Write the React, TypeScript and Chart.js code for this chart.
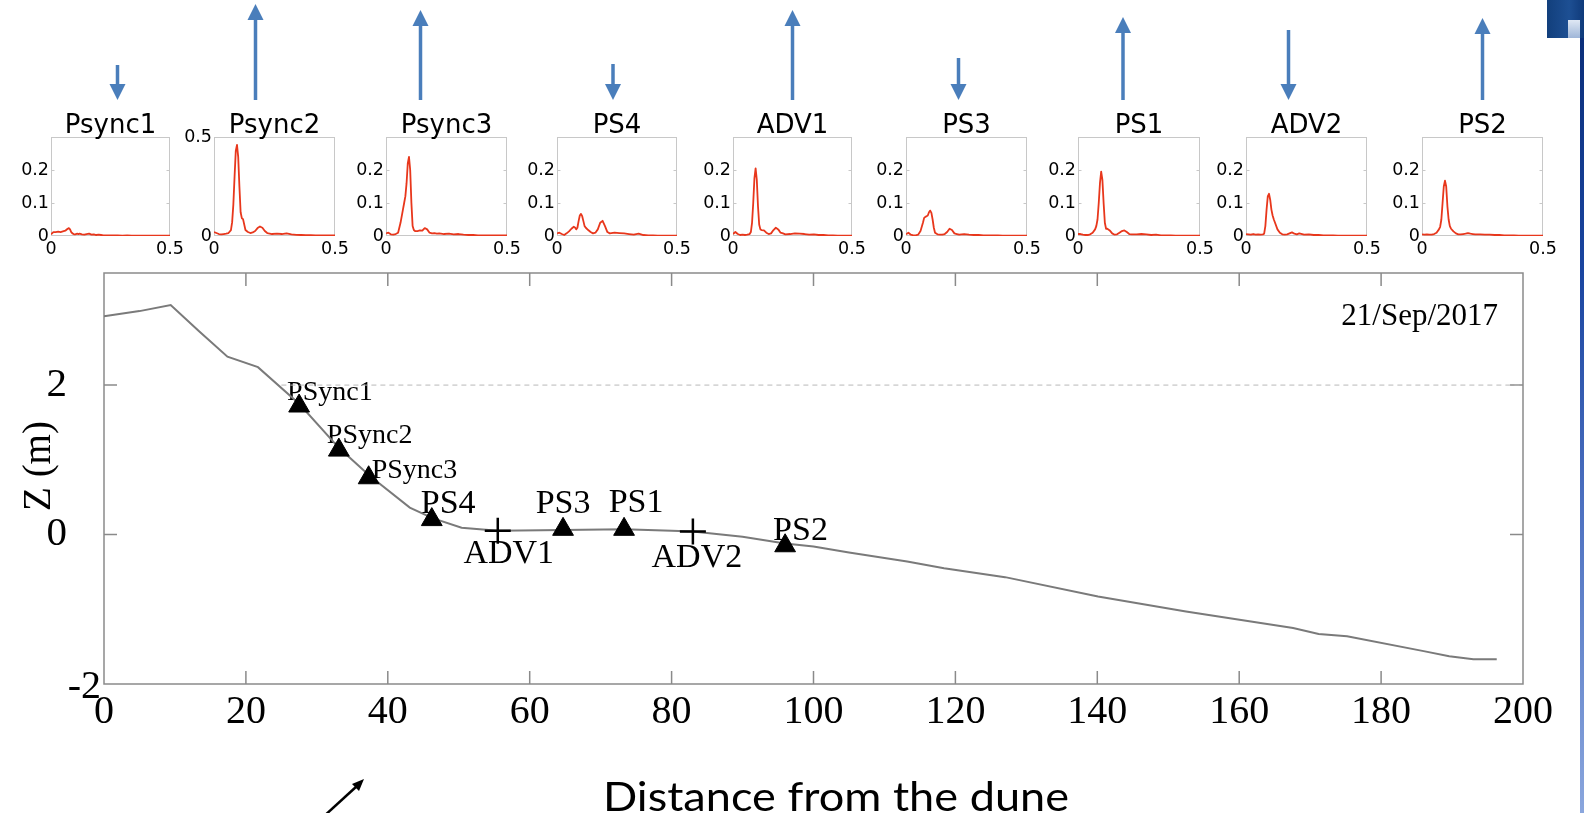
import React, { useEffect, useRef } from "react";
import { Chart, registerables } from "chart.js";

Chart.register(...registerables);

// ====================== DATA ======================
// Spectra (top panels): frequency grid and spectral density per instrument
const frequencies = [
  0, 0.01, 0.02, 0.03, 0.04, 0.05, 0.06, 0.07,
  0.075, 0.08, 0.085, 0.09, 0.095, 0.1, 0.105, 0.11, 0.115, 0.12,
  0.13, 0.14, 0.15, 0.16, 0.17, 0.18, 0.19, 0.2, 0.21, 0.22,
  0.24, 0.26, 0.28, 0.3, 0.32, 0.34, 0.36, 0.38, 0.4, 0.42, 0.44, 0.46, 0.48, 0.5,
];
const specPsync1 = [
  0.005, 0.012, 0.012, 0.013, 0.012, 0.014, 0.016, 0.022,
  0.024, 0.02, 0.012, 0.008, 0.006, 0.005, 0.006, 0.007, 0.006, 0.007,
  0.005, 0.004, 0.006, 0.007, 0.004, 0.005, 0.003, 0.004, 0.003, 0.002,
  0.002, 0.002, 0.002, 0.001, 0.002, 0.001, 0.001, 0.001, 0.001, 0.001, 0.001, 0.001, 0.001, 0.001,
];
const specPsync2 = [
  0.02, 0.015, 0.01, 0.008, 0.01, 0.012, 0.015, 0.03,
  0.07, 0.16, 0.3, 0.43, 0.46, 0.4, 0.25, 0.12, 0.09, 0.085,
  0.03, 0.02, 0.015, 0.018, 0.025, 0.04, 0.048, 0.042, 0.025, 0.015,
  0.01, 0.012, 0.01, 0.013, 0.008, 0.006, 0.005, 0.004, 0.004, 0.003, 0.003, 0.003, 0.003, 0.003,
];
const specPsync3 = [
  0.008, 0.01, 0.005, 0.004, 0.006, 0.01, 0.04, 0.08,
  0.1, 0.12, 0.16, 0.22, 0.24, 0.2, 0.1, 0.03, 0.018, 0.015,
  0.015, 0.017, 0.016, 0.024, 0.02, 0.01, 0.008, 0.009, 0.007, 0.008,
  0.006, 0.007, 0.005, 0.006, 0.004, 0.003, 0.003, 0.002, 0.002, 0.002, 0.002, 0.002, 0.002, 0.002,
];
const specPS4 = [
  0.008, 0.01, 0.006, 0.003, 0.008, 0.014, 0.022, 0.028,
  0.026, 0.02, 0.025, 0.045, 0.062, 0.067, 0.06, 0.045, 0.03, 0.025,
  0.018, 0.012, 0.008, 0.01, 0.02, 0.04, 0.046, 0.03, 0.012, 0.008,
  0.01, 0.009, 0.008, 0.006, 0.004, 0.007, 0.003, 0.002, 0.002, 0.001, 0.001, 0.001, 0.001, 0.001,
];
const specADV1 = [
  0.006, 0.012, 0.006, 0.003, 0.004, 0.003, 0.004, 0.006,
  0.012, 0.04, 0.1, 0.175, 0.205, 0.17, 0.09, 0.035, 0.02, 0.018,
  0.017, 0.01, 0.006, 0.008, 0.018, 0.025, 0.02, 0.01, 0.008, 0.005,
  0.006, 0.008, 0.007, 0.006, 0.004, 0.005, 0.003, 0.003, 0.002, 0.002, 0.001, 0.001, 0.001, 0.001,
];
const specPS3 = [
  0.005, 0.01, 0.004, 0.002, 0.002, 0.004, 0.015, 0.04,
  0.055, 0.058, 0.06, 0.062, 0.072, 0.077, 0.07, 0.05, 0.025, 0.01,
  0.005, 0.004, 0.004, 0.006, 0.012, 0.022, 0.018, 0.008, 0.006, 0.004,
  0.006, 0.004, 0.003, 0.003, 0.002, 0.002, 0.002, 0.002, 0.001, 0.001, 0.001, 0.001, 0.001, 0.001,
];
const specPS1 = [
  0.006, 0.006, 0.004, 0.003, 0.003, 0.005, 0.01, 0.02,
  0.03, 0.05, 0.1, 0.16, 0.195, 0.17, 0.1, 0.04, 0.022, 0.022,
  0.017, 0.008, 0.004, 0.005, 0.01, 0.015, 0.017, 0.012, 0.006, 0.005,
  0.005, 0.006, 0.005, 0.003, 0.004, 0.002, 0.002, 0.002, 0.001, 0.001, 0.001, 0.001, 0.001, 0.001,
];
const specADV2 = [
  0.006, 0.005, 0.004, 0.006, 0.004, 0.005, 0.004, 0.005,
  0.007, 0.03, 0.08, 0.12, 0.128, 0.11, 0.08, 0.062, 0.05, 0.04,
  0.02, 0.01, 0.005, 0.004, 0.005, 0.008, 0.011, 0.007, 0.005, 0.008,
  0.004, 0.005, 0.003, 0.003, 0.002, 0.002, 0.002, 0.001, 0.001, 0.001, 0.001, 0.001, 0.001, 0.001,
];
const specPS2 = [
  0.005, 0.004, 0.005, 0.004, 0.004, 0.006, 0.01, 0.02,
  0.028, 0.05, 0.1, 0.15, 0.168, 0.15, 0.09, 0.05, 0.03, 0.022,
  0.014, 0.008, 0.005, 0.005, 0.006, 0.007, 0.009, 0.007, 0.006, 0.005,
  0.005, 0.004, 0.004, 0.003, 0.003, 0.002, 0.002, 0.002, 0.001, 0.001, 0.001, 0.001, 0.001, 0.001,
];
const spectra = [specPsync1, specPsync2, specPsync3, specPS4, specADV1, specPS3, specPS1, specADV2, specPS2];
const panelTitles = ["Psync1", "Psync2", "Psync3", "PS4", "ADV1", "PS3", "PS1", "ADV2", "PS2"];
const panelYMax = [0.3, 0.5, 0.3, 0.3, 0.3, 0.3, 0.3, 0.3, 0.3];
const panelYTicks = [
  [0, 0.1, 0.2], [0, 0.5], [0, 0.1, 0.2], [0, 0.1, 0.2], [0, 0.1, 0.2],
  [0, 0.1, 0.2], [0, 0.1, 0.2], [0, 0.1, 0.2], [0, 0.1, 0.2],
];
const freqTicks = [0, 0.5];
// signed arrow magnitudes above each panel (positive = up, negative = down)
const arrowValues = [-0.35, 0.96, 0.9, -0.36, 0.9, -0.42, 0.83, -0.7, 0.82];

// Beach profile (main panel)
const profileDistance = [
  0, 5, 9.4, 13.4, 17.4, 21.7, 27.5, 33.1, 37.4, 43.1, 46.3, 50.4, 55.5, 64.7, 73.3, 80, 83, 90,
  96, 100, 105, 113.2, 118.4, 127, 140.1, 152.5, 167.6, 171.2, 175.2, 186, 189.6, 193, 196.3,
];
const profileZ = [
  2.92, 2.99, 3.07, 2.72, 2.38, 2.24, 1.75, 1.16, 0.79, 0.36, 0.22, 0.09, 0.05, 0.06, 0.07, 0.05, 0.04, -0.03,
  -0.12, -0.16, -0.24, -0.36, -0.45, -0.57, -0.83, -1.03, -1.25, -1.33, -1.36, -1.56, -1.63, -1.67, -1.67,
];
const waterLevelDistance = [25, 200];
const waterLevelZ = [2, 2];
const instrumentNames = ["PSync1", "PSync2", "PSync3", "PS4", "ADV1", "PS3", "PS1", "ADV2", "PS2"];
const instrumentDistance = [27.5, 33.1, 37.3, 46.2, 55.5, 64.7, 73.3, 83.0, 96.0];
const instrumentZ = [1.72, 1.13, 0.76, 0.2, 0.05, 0.07, 0.07, 0.04, -0.15];
const instrumentKind = ["PS", "PS", "PS", "PS", "ADV", "PS", "PS", "ADV", "PS"];
const distanceTicks = [0, 20, 40, 60, 80, 100, 120, 140, 160, 180, 200];
const zTicks = [-2, 0, 2];
const distanceRange = [0, 200];
const zRange = [-2, 3.5];
const surveyDate = "21/Sep/2017";
const xAxisTitle = "Distance from the dune";
const yAxisTitle = "Z (m)";

// ====================== LAYOUT / STYLE ======================
const PANEL_LAYOUT = [
  { left: 51, right: 170, arrowDx: 7 },
  { left: 214, right: 335, arrowDx: -19 },
  { left: 386, right: 507, arrowDx: -26 },
  { left: 557, right: 677, arrowDx: -4 },
  { left: 733, right: 852, arrowDx: 0 },
  { left: 906, right: 1027, arrowDx: -8 },
  { left: 1078, right: 1200, arrowDx: -16 },
  { left: 1246, right: 1367, arrowDx: -18 },
  { left: 1422, right: 1543, arrowDx: 0 },
];
const MINI = { axisW: 45, padRight: 24, top: 137, bottom: 236, height: 262, xAxisH: 22 };
const ARROW = { base: 100, scale: 100, color: "#4a7ebb", width: 3.5, head: 16, headHalf: 8 };
const SANS = "'DejaVu Sans', 'Liberation Sans', sans-serif";
const SERIF = "'Liberation Serif', 'Times New Roman', serif";

const MAIN = { top: 255, width: 1580, height: 558, plotTop: 273, plotBottom: 684, plotLeft: 104, plotRight: 1523 };
const Y_TITLE = { x: 40, y: 211, size: 39 }; // relative to main canvas

const LABEL_STYLE = [
  { dx: -12, dy: -6, align: "left", size: 28 },
  { dx: -12, dy: -7, align: "left", size: 28 },
  { dx: 3, dy: 0, align: "left", size: 28 },
  { dx: -11, dy: -7, align: "left", size: 34 },
  { dx: 11, dy: 32, align: "center", size: 34 },
  { dx: 0, dy: -16, align: "center", size: 34 },
  { dx: 12, dy: -17, align: "center", size: 34 },
  { dx: 4, dy: 35, align: "center", size: 34 },
  { dx: -12, dy: -6, align: "left", size: 34 },
];

// ====================== MINI PANELS ======================
const miniDecor = {
  id: "miniDecor",
  beforeDatasetsDraw(chart: any, _args: any, opts: any) {
    const { ctx, chartArea: a, scales } = chart;
    ctx.save();
    ctx.strokeStyle = "#c8c8c8";
    ctx.lineWidth = 1;
    const l = Math.round(a.left) + 0.5;
    const r = Math.round(a.right) - 0.5;
    const t = Math.round(a.top) + 0.5;
    const b = Math.round(a.bottom) - 0.5;
    ctx.strokeRect(l, t, r - l, b - t);
    ctx.beginPath();
    (opts.yTicks || []).forEach((v: number) => {
      if (v <= 0) return;
      const y = Math.round(scales.y.getPixelForValue(v)) + 0.5;
      ctx.moveTo(l, y);
      ctx.lineTo(l + 3, y);
      ctx.moveTo(r, y);
      ctx.lineTo(r - 3, y);
    });
    ctx.stroke();
    ctx.restore();
  },
  afterDraw(chart: any, _args: any, opts: any) {
    const { ctx, chartArea: a } = chart;
    const cx = (a.left + a.right) / 2;
    ctx.save();
    ctx.fillStyle = "#000";
    ctx.font = `26px ${SANS}`;
    ctx.textAlign = "center";
    ctx.textBaseline = "alphabetic";
    ctx.fillText(opts.title, cx, a.top - 4);
    // arrow
    const ax = cx + opts.arrowDx;
    const len = Math.abs(opts.arrow) * ARROW.scale;
    const up = opts.arrow > 0;
    const tailY = up ? ARROW.base : ARROW.base - len;
    const tipY = up ? ARROW.base - len : ARROW.base;
    const headBase = up ? tipY + ARROW.head : tipY - ARROW.head;
    ctx.strokeStyle = ARROW.color;
    ctx.fillStyle = ARROW.color;
    ctx.lineWidth = ARROW.width;
    ctx.beginPath();
    ctx.moveTo(ax, tailY);
    ctx.lineTo(ax, headBase);
    ctx.stroke();
    ctx.beginPath();
    ctx.moveTo(ax, tipY);
    ctx.lineTo(ax - ARROW.headHalf, headBase);
    ctx.lineTo(ax + ARROW.headHalf, headBase);
    ctx.closePath();
    ctx.fill();
    ctx.restore();
  },
};

function MiniPanel({ idx }: { idx: number }) {
  const ref = useRef<HTMLCanvasElement | null>(null);
  const lay = PANEL_LAYOUT[idx];
  const width = MINI.axisW + (lay.right - lay.left) + MINI.padRight;
  useEffect(() => {
    const chart = new Chart(ref.current as HTMLCanvasElement, {
      type: "line",
      data: {
        datasets: [
          {
            data: frequencies.map((f, i) => ({ x: f, y: spectra[idx][i] })),
            borderColor: "#e8371c",
            borderWidth: 1.8,
            pointRadius: 0,
            tension: 0,
            borderJoinStyle: "round",
          } as any,
        ],
      },
      options: {
        animation: false,
        responsive: false,
        events: [],
        layout: {
          padding: { left: 0, right: MINI.padRight, top: MINI.top, bottom: MINI.height - MINI.bottom - MINI.xAxisH },
        },
        plugins: {
          legend: { display: false },
          tooltip: { enabled: false },
          miniDecor: { title: panelTitles[idx], arrow: arrowValues[idx], arrowDx: lay.arrowDx, yTicks: panelYTicks[idx] },
        } as any,
        scales: {
          x: {
            type: "linear",
            min: 0,
            max: 0.5,
            afterBuildTicks: (s: any) => {
              s.ticks = freqTicks.map((v) => ({ value: v }));
            },
            afterFit: (s: any) => {
              s.height = MINI.xAxisH;
            },
            ticks: {
              callback: (v: any) => String(v),
              font: { family: SANS, size: 17.5 },
              color: "#000",
              padding: 3,
              maxRotation: 0,
              autoSkip: false,
            },
            grid: { display: false, drawTicks: false },
            border: { display: false },
          },
          y: {
            type: "linear",
            min: 0,
            max: panelYMax[idx],
            afterBuildTicks: (s: any) => {
              s.ticks = panelYTicks[idx].map((v) => ({ value: v }));
            },
            afterFit: (s: any) => {
              s.width = MINI.axisW;
            },
            ticks: {
              callback: (v: any) => String(v),
              font: { family: SANS, size: 17.5 },
              color: "#000",
              padding: 2,
              autoSkip: false,
            },
            grid: { display: false, drawTicks: false },
            border: { display: false },
          },
        },
      } as any,
      plugins: [miniDecor as any],
    });
    return () => chart.destroy();
  }, [idx]);
  return (
    <canvas
      ref={ref}
      width={width}
      height={MINI.height}
      style={{ position: "absolute", left: lay.left - MINI.axisW, top: 0, width, height: MINI.height }}
    />
  );
}

// ====================== MAIN PROFILE ======================
const mainDecor = {
  id: "mainDecor",
  beforeDatasetsDraw(chart: any) {
    const { ctx, chartArea: a, scales } = chart;
    ctx.save();
    // instrument labels (under markers)
    instrumentNames.forEach((name, i) => {
      const st = LABEL_STYLE[i];
      const px = scales.x.getPixelForValue(instrumentDistance[i]);
      const py = scales.y.getPixelForValue(instrumentZ[i]);
      ctx.font = `${st.size}px ${SERIF}`;
      ctx.fillStyle = "#000";
      ctx.textAlign = st.align;
      ctx.textBaseline = "alphabetic";
      ctx.fillText(name, px + st.dx, py + st.dy);
    });
    // frame and inward ticks
    ctx.strokeStyle = "#8a8a8a";
    ctx.lineWidth = 1.5;
    ctx.strokeRect(a.left, a.top, a.right - a.left, a.bottom - a.top);
    ctx.beginPath();
    distanceTicks.forEach((v) => {
      if (v <= distanceRange[0] || v >= distanceRange[1]) return;
      const x = scales.x.getPixelForValue(v);
      ctx.moveTo(x, a.bottom);
      ctx.lineTo(x, a.bottom - 13);
      ctx.moveTo(x, a.top);
      ctx.lineTo(x, a.top + 13);
    });
    zTicks.forEach((v) => {
      if (v <= zRange[0] || v >= zRange[1]) return;
      const y = scales.y.getPixelForValue(v);
      ctx.moveTo(a.left, y);
      ctx.lineTo(a.left + 13, y);
      ctx.moveTo(a.right, y);
      ctx.lineTo(a.right - 13, y);
    });
    ctx.stroke();
    ctx.restore();
  },
  afterDraw(chart: any) {
    const { ctx, chartArea: a, scales } = chart;
    ctx.save();
    ctx.fillStyle = "#000";
    // date
    ctx.font = `31px ${SERIF}`;
    ctx.textAlign = "right";
    ctx.textBaseline = "alphabetic";
    ctx.fillText(surveyDate, a.right - 25, a.top + 52);
    // lowest z tick label, nudged as in the original figure
    ctx.font = `40px ${SERIF}`;
    ctx.textAlign = "right";
    ctx.textBaseline = "middle";
    ctx.fillText(String(zTicks[0]), a.left - 3, scales.y.getPixelForValue(zTicks[0]) + 3);
    // y-axis title
    ctx.translate(Y_TITLE.x, Y_TITLE.y);
    ctx.rotate(-Math.PI / 2);
    ctx.font = `${Y_TITLE.size}px ${SERIF}`;
    ctx.textAlign = "center";
    ctx.textBaseline = "middle";
    ctx.fillText(yAxisTitle, 0, 0);
    ctx.restore();
  },
};

function MainProfile() {
  const ref = useRef<HTMLCanvasElement | null>(null);
  useEffect(() => {
    const chart = new Chart(ref.current as HTMLCanvasElement, {
      type: "scatter",
      data: {
        datasets: [
          {
            label: "instruments PS",
            data: instrumentNames
              .map((_, i) => ({ x: instrumentDistance[i], y: instrumentZ[i], k: instrumentKind[i] }))
              .filter((d) => d.k === "PS"),
            pointStyle: "triangle",
            pointRadius: 12,
            backgroundColor: "#000",
            borderColor: "#000",
            borderWidth: 1,
            order: 0,
          },
          {
            label: "instruments ADV",
            data: instrumentNames
              .map((_, i) => ({ x: instrumentDistance[i], y: instrumentZ[i], k: instrumentKind[i] }))
              .filter((d) => d.k === "ADV"),
            pointStyle: "cross",
            pointRadius: 13,
            borderColor: "#000",
            borderWidth: 2.5,
            order: 1,
          },
          {
            label: "profile",
            data: profileDistance.map((x, i) => ({ x, y: profileZ[i] })),
            showLine: true,
            borderColor: "#7a7a7a",
            borderWidth: 2,
            pointRadius: 0,
            tension: 0,
            order: 2,
          },
          {
            label: "water level",
            data: waterLevelDistance.map((x, i) => ({ x, y: waterLevelZ[i] })),
            showLine: true,
            borderColor: "#b8b8b8",
            borderWidth: 1,
            borderDash: [5, 4],
            pointRadius: 0,
            order: 3,
          },
        ] as any,
      },
      options: {
        animation: false,
        responsive: false,
        events: [],
        layout: {
          padding: {
            left: 0,
            top: MAIN.plotTop - MAIN.top,
            right: MAIN.width - MAIN.plotRight,
            bottom: MAIN.height - (MAIN.plotBottom - MAIN.top) - 60,
          },
        },
        plugins: { legend: { display: false }, tooltip: { enabled: false } },
        scales: {
          x: {
            type: "linear",
            min: distanceRange[0],
            max: distanceRange[1],
            afterBuildTicks: (s: any) => {
              s.ticks = distanceTicks.map((v) => ({ value: v }));
            },
            afterFit: (s: any) => {
              s.height = 60;
            },
            ticks: {
              callback: (v: any) => String(v),
              font: { family: SERIF, size: 40 },
              color: "#000",
              padding: 4,
              maxRotation: 0,
              autoSkip: false,
            },
            grid: { display: false, drawTicks: false },
            border: { display: false },
          },
          y: {
            type: "linear",
            min: zRange[0],
            max: zRange[1],
            afterBuildTicks: (s: any) => {
              s.ticks = zTicks.map((v) => ({ value: v }));
            },
            afterFit: (s: any) => {
              s.width = MAIN.plotLeft;
              s.paddingTop = 0;
              s.paddingBottom = 0;
            },
            ticks: {
              callback: (v: any) => (v === zTicks[0] ? "" : String(v)),
              font: { family: SERIF, size: 41 },
              color: "#000",
              padding: 37,
              autoSkip: false,
            },
            title: { display: false },
            grid: { display: false, drawTicks: false },
            border: { display: false },
          },
        },
      } as any,
      plugins: [mainDecor as any],
    });
    return () => chart.destroy();
  }, []);
  return (
    <canvas
      ref={ref}
      width={MAIN.width}
      height={MAIN.height}
      style={{ position: "absolute", left: 0, top: MAIN.top, width: MAIN.width, height: MAIN.height }}
    />
  );
}

export default function App() {
  return (
    <div
      style={{
        position: "fixed",
        left: 0,
        top: 0,
        width: 1584,
        height: 813,
        background: "#fff",
        overflow: "hidden",
      }}
    >
      <MainProfile />
      {PANEL_LAYOUT.map((_, i) => (
        <MiniPanel key={i} idx={i} />
      ))}
      <div
        style={{
          position: "absolute",
          left: 836,
          top: 775,
          transform: "translateX(-50%) scaleX(1.1)",
          fontFamily: "Lato, 'Open Sans', sans-serif",
          fontSize: 41,
          lineHeight: "41px",
          whiteSpace: "nowrap",
          color: "#000",
        }}
      >
        {xAxisTitle}
      </div>
      <svg
        width={1584}
        height={813}
        style={{ position: "absolute", left: 0, top: 0, pointerEvents: "none" }}
      >
        <line x1={322} y1={818} x2={357} y2={786} stroke="#000" strokeWidth={2.5} />
        <polygon points="364,779 352,784 359,791" fill="#000" />
      </svg>
      <div
        style={{
          position: "absolute",
          left: 1547,
          top: 0,
          width: 37,
          height: 38,
          background: "linear-gradient(90deg, #123f7c 0%, #1d4f93 60%, #0f3a7a 100%)",
        }}
      />
      <div
        style={{
          position: "absolute",
          left: 1568,
          top: 20,
          width: 12,
          height: 18,
          background: "linear-gradient(180deg, #dfe8f4, #9fb6d8)",
        }}
      />
      <div
        style={{
          position: "absolute",
          left: 1580,
          top: 38,
          width: 4,
          height: 775,
          background: "linear-gradient(180deg, #0b2f7a 0%, #1a45a0 30%, #4c70c0 60%, #8aa6dd 100%)",
        }}
      />
    </div>
  );
}
